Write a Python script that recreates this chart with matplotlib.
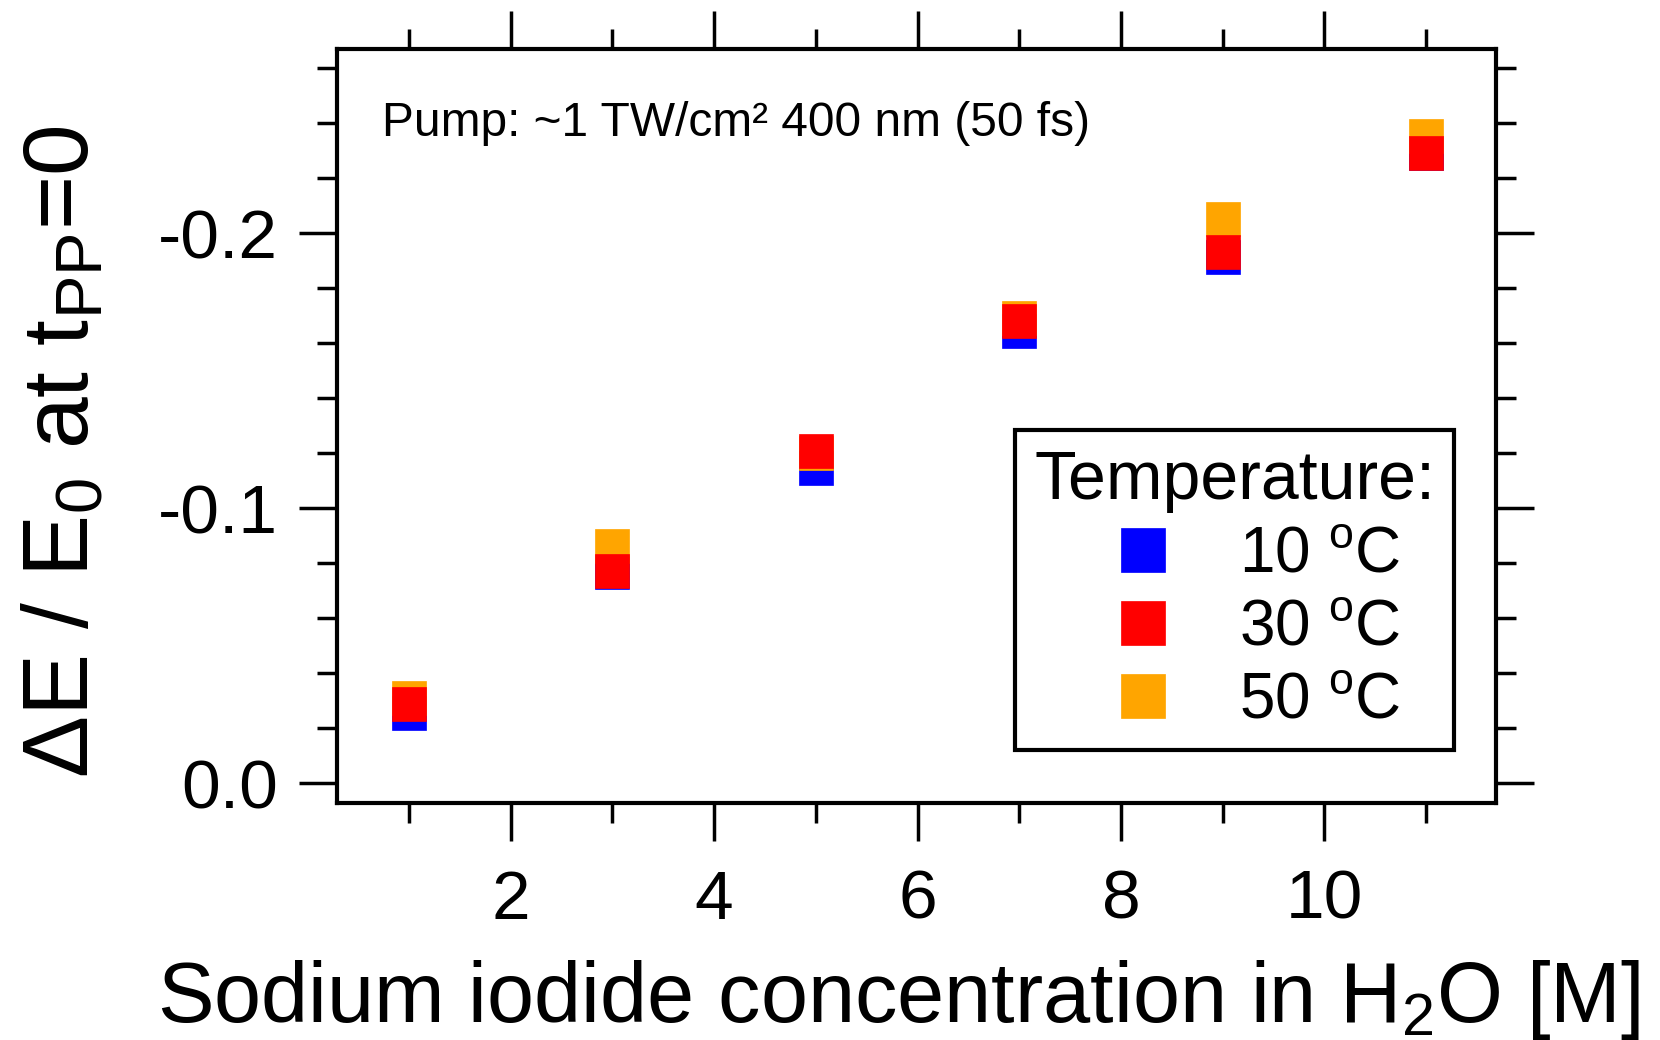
import matplotlib
matplotlib.use("Agg")
import matplotlib.pyplot as plt
from matplotlib.ticker import MultipleLocator, FuncFormatter

plt.rcParams['font.family'] = ['Liberation Sans', 'DejaVu Sans']
plt.rcParams['mathtext.fontset'] = 'custom'
plt.rcParams['mathtext.rm'] = 'Liberation Sans'
plt.rcParams['mathtext.it'] = 'Liberation Sans:italic'
plt.rcParams['mathtext.default'] = 'regular'
plt.rcParams['axes.unicode_minus'] = False

# ---- data ----
concentration = [1, 3, 5, 7, 9, 11]
dE_10C = [-0.0254, -0.0768, -0.1145, -0.1644, -0.1912, -0.2291]
dE_30C = [-0.0287, -0.0773, -0.1207, -0.1680, -0.1933, -0.2291]
dE_50C = [-0.0308, -0.0864, -0.1200, -0.1691, -0.2053, -0.2352]
series_labels = ["10 $^{o}$C", "30 $^{o}$C", "50 $^{o}$C"]
series_colors = ["#0000ff", "#ff0000", "#ffa500"]
y_major = [0.0, -0.1, -0.2]

fig = plt.figure(figsize=(16.6, 10.4), dpi=100)
ax = fig.add_axes([0.2030, 0.2279, 0.6982, 0.7250])

ms = 24.5
h10, = ax.plot(concentration, dE_10C, linestyle='none', marker='s', ms=ms,
               mfc=series_colors[0], mec=series_colors[0], mew=0.5, zorder=3)
h50, = ax.plot(concentration, dE_50C, linestyle='none', marker='s', ms=ms,
               mfc=series_colors[2], mec=series_colors[2], mew=0.5, zorder=4)
h30, = ax.plot(concentration, dE_30C, linestyle='none', marker='s', ms=ms,
               mfc=series_colors[1], mec=series_colors[1], mew=0.5, zorder=5)

ax.set_xlim(0.29, 11.69)
ax.set_ylim(0.0072, -0.267)

ax.xaxis.set_major_locator(MultipleLocator(2))
ax.xaxis.set_minor_locator(MultipleLocator(1))
ax.set_yticks(y_major)
ax.yaxis.set_minor_locator(MultipleLocator(0.02))
ax.yaxis.set_major_formatter(FuncFormatter(lambda v, p: "%.1f" % v if abs(v) > 1e-9 else "0.0"))

for s in ax.spines.values():
    s.set_linewidth(3.0)

ax.tick_params(axis='both', which='both', direction='out', top=True, right=True,
               width=2.5, colors='black')
ax.tick_params(axis='both', which='major', length=27.5, labelsize=50)
ax.tick_params(axis='both', which='minor', length=14.5)
ax.tick_params(axis='x', which='major', pad=20)
ax.tick_params(axis='y', which='major', pad=15)

ax.set_xlabel("Sodium iodide concentration in H$_2$O [M]", fontsize=61)
ax.xaxis.set_label_coords(0.484, -0.205)
ax.set_ylabel("ΔE / E$_0$ at t$_{PP}$=0", fontsize=67)
ax.yaxis.set_label_coords(-0.1975, 0.4655)

ax.text(0.039, 0.884, "Pump: ~1 TW/cm² 400 nm (50 fs)", transform=ax.transAxes,
        fontsize=34.5, va='baseline', ha='left')

leg = ax.legend([h10, h30, h50], series_labels, title="Temperature:",
                loc='upper left', bbox_to_anchor=(0.585, 0.495), borderaxespad=0,
                fontsize=46, title_fontsize=49, markerscale=1.29,
                handlelength=2.3, handletextpad=0.35, borderpad=0.3,
                labelspacing=0.2, fancybox=False, framealpha=1, edgecolor='black')
leg.get_frame().set_linewidth(3.0)

fig.savefig("out.png", dpi=100)
